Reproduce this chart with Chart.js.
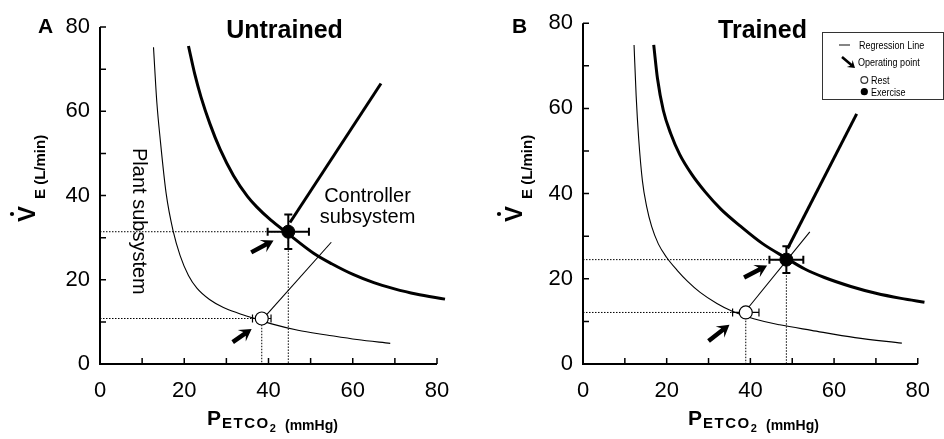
<!DOCTYPE html>
<html>
<head>
<meta charset="utf-8">
<script src="https://cdn.jsdelivr.net/npm/chart.js@4"></script>
<style>
  html, body { margin: 0; padding: 0; background: #fff; }
  #wrap { position: relative; width: 944px; height: 439px; overflow: hidden; }
  #chartA { position: absolute; left: 0; top: 0; }
  #chartB { position: absolute; left: 470px; top: 0; }
</style>
</head>
<body>
<div id="wrap">
  <canvas id="chartA" width="470" height="439"></canvas>
  <canvas id="chartB" width="474" height="439"></canvas>
</div>
<script>
// --- Axis ticks ---
const axisTicks = [0, 20, 40, 60, 80];
const tickMarks = [0, 10, 20, 30, 40, 50, 60, 70, 80];

// --- Panel A: Untrained (P_ETCO2 in mmHg, V_E in L/min) ---
const untrainedRestCurveP = [12.7, 13.5, 14.3, 15.7, 17.4, 19.0, 21.0, 23.0, 26.0, 29.3, 33.0, 36.4, 41.2, 47.0, 53.8, 61.0, 68.9];
const untrainedRestCurveV = [75.2, 62.0, 53.3, 40.5, 31.4, 25.8, 21.0, 18.0, 15.3, 13.4, 12.0, 10.9, 9.4, 8.0, 6.9, 5.8, 4.9];
const untrainedExCurveP = [21.0, 22.5, 24.0, 26.1, 28.5, 31.7, 35.0, 37.2, 40.5, 44.3, 50.7, 55.0, 60.2, 65.0, 69.7, 75.0, 81.9];
const untrainedExCurveV = [75.5, 68.8, 63.3, 57.0, 51.0, 44.7, 39.8, 37.3, 34.2, 31.2, 26.3, 23.8, 21.2, 19.3, 17.9, 16.6, 15.4];
const untrainedRestLineP = [39.2, 54.9];
const untrainedRestLineV = [11.3, 28.9];
const untrainedExLineP = [45.1, 66.7];
const untrainedExLineV = [33.6, 66.6];
const untrainedPointsP = [38.4, 44.7];   // rest, exercise
const untrainedPointsV = [10.8, 31.4];
const untrainedErrP = [2.2, 4.9];
const untrainedErrV = [0.3, 4.1];
const untrainedArrowTailP = [31.5, 35.9];
const untrainedArrowTailV = [5.2, 26.5];
const untrainedArrowHeadP = [36.0, 41.2];
const untrainedArrowHeadV = [8.3, 29.3];

// --- Panel B: Trained ---
const trainedRestCurveP = [12.2, 12.7, 13.3, 14.2, 15.2, 16.4, 18.0, 20.0, 22.5, 25.0, 28.0, 32.0, 35.8, 40.8, 47.0, 54.6, 65.0, 76.2];
const trainedRestCurveV = [74.9, 63.0, 53.0, 43.0, 37.0, 32.3, 28.2, 25.0, 22.0, 19.4, 16.8, 14.2, 12.3, 10.6, 9.2, 7.9, 6.2, 4.9];
const trainedExCurveP = [16.9, 17.8, 19.2, 21.0, 23.1, 26.0, 29.2, 33.0, 37.7, 43.0, 48.5, 53.0, 57.7, 64.0, 70.0, 76.0, 81.6];
const trainedExCurveV = [74.9, 67.0, 59.5, 54.0, 49.2, 44.5, 40.4, 36.3, 32.3, 28.2, 24.9, 22.3, 20.3, 18.2, 16.6, 15.4, 14.5];
const trainedRestLineP = [38.9, 54.2];
const trainedRestLineV = [12.5, 31.0];
const trainedExLineP = [48.9, 65.4];
const trainedExLineV = [27.1, 58.7];
const trainedPointsP = [38.9, 48.6];
const trainedPointsV = [12.1, 24.5];
const trainedErrP = [3.15, 4.05];
const trainedErrV = [0.3, 3.15];
const trainedArrowTailP = [30.0, 38.5];
const trainedArrowTailV = [5.4, 20.3];
const trainedArrowHeadP = [35.0, 44.0];
const trainedArrowHeadV = [9.2, 23.1];

Chart.defaults.font.family = "'Liberation Sans', Arial, sans-serif";
Chart.defaults.color = '#000';

const FONT = "'Liberation Sans', Arial, sans-serif";

// --- Helpers ---
const pts = (xs, ys) => xs.map((x, i) => ({ x, y: ys[i] }));

const drawArrow = (ctx, x1, y1, x2, y2, shaft, headLen, headW) => {
    const len = Math.hypot(x2 - x1, y2 - y1);
    ctx.save();
    ctx.translate(x2, y2);
    ctx.rotate(Math.atan2(y2 - y1, x2 - x1));
    ctx.fillStyle = '#000';
    ctx.beginPath();
    ctx.moveTo(0, 0);
    ctx.lineTo(-headLen, -headW);
    ctx.lineTo(-headLen * 0.72, -shaft / 2);
    ctx.lineTo(-len, -shaft / 2);
    ctx.lineTo(-len, shaft / 2);
    ctx.lineTo(-headLen * 0.72, shaft / 2);
    ctx.lineTo(-headLen, headW);
    ctx.closePath();
    ctx.fill();
    ctx.restore();
};

const drawXTitle = (ctx, x0, base) => {
    ctx.save();
    ctx.fillStyle = '#000';
    ctx.textAlign = 'left';
    ctx.textBaseline = 'alphabetic';
    ctx.font = `bold 21px ${FONT}`;
    ctx.fillText('P', x0, base);
    let x = x0 + ctx.measureText('P').width + 1;
    ctx.font = `bold 15px ${FONT}`;
    ctx.letterSpacing = '1.5px';
    ctx.fillText('ETCO', x, base + 3);
    x += ctx.measureText('ETCO').width;
    ctx.letterSpacing = '0px';
    ctx.font = `bold 11px ${FONT}`;
    ctx.fillText('2', x, base + 7);
    ctx.font = `bold 14px ${FONT}`;
    ctx.fillText('(mmHg)', x0 + 78, base + 5);
    ctx.restore();
};

const drawYTitle = (ctx, baseX, startY) => {
    ctx.save();
    ctx.translate(baseX, startY);
    ctx.rotate(-Math.PI / 2);
    ctx.fillStyle = '#000';
    ctx.textAlign = 'left';
    ctx.textBaseline = 'alphabetic';
    ctx.font = `bold 24px ${FONT}`;
    ctx.fillText('V', 0, 0);
    const wV = ctx.measureText('V').width;
    ctx.beginPath();
    ctx.arc(wV / 2, -23, 2.1, 0, Math.PI * 2);
    ctx.fill();
    ctx.font = `bold 15px ${FONT}`;
    ctx.fillText('E (L/min)', wV + 7, 10);
    ctx.restore();
};

// --- Decoration plugin: axes, error bars, arrows and texts ---
const makeDecor = (d, look) => ({
    id: 'panelDecor',
    beforeDatasetsDraw(chart) {
        const { ctx, chartArea: a, scales: { x, y } } = chart;
        ctx.save();
        ctx.strokeStyle = '#000';
        ctx.lineWidth = 2;
        ctx.beginPath();
        ctx.moveTo(a.left, a.top);
        ctx.lineTo(a.left, a.bottom);
        ctx.lineTo(a.right, a.bottom);
        ctx.stroke();
        ctx.lineWidth = 1.5;
        ctx.beginPath();
        tickMarks.forEach(v => {
            const xp = x.getPixelForValue(v);
            const yp = y.getPixelForValue(v);
            ctx.moveTo(xp, a.bottom);
            ctx.lineTo(xp, a.bottom - 6);
            ctx.moveTo(a.left, yp);
            ctx.lineTo(a.left + 6, yp);
        });
        ctx.stroke();

        // error bars (index 0 rest = thin, 1 exercise = thick)
        d.pointsP.forEach((p, i) => {
            const v = d.pointsV[i];
            const cx = x.getPixelForValue(p), cy = y.getPixelForValue(v);
            const xl = x.getPixelForValue(p - d.errP[i]), xr = x.getPixelForValue(p + d.errP[i]);
            const yt = y.getPixelForValue(v + d.errV[i]), yb = y.getPixelForValue(v - d.errV[i]);
            const cap = 4;
            ctx.lineWidth = i === 0 ? 1.2 : 2;
            ctx.beginPath();
            ctx.moveTo(xl, cy); ctx.lineTo(xr, cy);
            ctx.moveTo(xl, cy - cap); ctx.lineTo(xl, cy + cap);
            ctx.moveTo(xr, cy - cap); ctx.lineTo(xr, cy + cap);
            if (d.errV[i] > 0.5) {
                ctx.moveTo(cx, yt); ctx.lineTo(cx, yb);
                ctx.moveTo(cx - cap, yt); ctx.lineTo(cx + cap, yt);
                ctx.moveTo(cx - cap, yb); ctx.lineTo(cx + cap, yb);
            }
            ctx.stroke();
        });
        ctx.restore();
    },
    afterDatasetsDraw(chart) {
        const { ctx, scales: { x, y } } = chart;
        d.arrowTailP.forEach((p, i) => {
            drawArrow(ctx,
                x.getPixelForValue(p), y.getPixelForValue(d.arrowTailV[i]),
                x.getPixelForValue(d.arrowHeadP[i]), y.getPixelForValue(d.arrowHeadV[i]),
                4.5, 12, 7);
        });
    },
    afterDraw(chart) {
        const { ctx } = chart;
        ctx.save();
        ctx.fillStyle = '#000';
        ctx.textBaseline = 'alphabetic';
        ctx.font = `bold 21px ${FONT}`;
        ctx.textAlign = 'left';
        ctx.fillText(look.letter, look.letterX, 33);
        ctx.font = `bold 25px ${FONT}`;
        ctx.textAlign = 'center';
        ctx.fillText(look.title, look.titleX, 38);
        ctx.restore();

        drawXTitle(ctx, look.xTitleX, 425);
        drawYTitle(ctx, look.yTitleX, 222);
        if (look.extra) look.extra(ctx);
    }
});

const buildDatasets = (d) => {
    const base = { showLine: true, pointRadius: 0, borderColor: '#000', backgroundColor: '#000', fill: false, clip: false };
    return [
        { ...base, data: pts([d.pointsP[1]], [d.pointsV[1]]), showLine: false, pointRadius: 6.5,
          pointBackgroundColor: '#000', pointBorderColor: '#000', order: 0 },
        { ...base, data: pts([d.pointsP[0]], [d.pointsV[0]]), showLine: false, pointRadius: 6.5,
          pointBackgroundColor: '#fff', pointBorderColor: '#000', pointBorderWidth: 1.2, order: 1 },
        { ...base, data: pts(d.exLineP, d.exLineV), borderWidth: 3, order: 2 },
        { ...base, data: pts(d.restLineP, d.restLineV), borderWidth: 1.1, order: 3 },
        { ...base, data: pts(d.exCurveP, d.exCurveV), borderWidth: 3, cubicInterpolationMode: 'monotone', order: 4 },
        { ...base, data: pts(d.restCurveP, d.restCurveV), borderWidth: 1.1, cubicInterpolationMode: 'monotone', order: 5 },
        { ...base, data: [{ x: 0, y: d.pointsV[0] }, { x: d.pointsP[0], y: d.pointsV[0] }, { x: d.pointsP[0], y: 0 }],
          borderWidth: 1, borderDash: [1.5, 1.5], order: 6 },
        { ...base, data: [{ x: 0, y: d.pointsV[1] }, { x: d.pointsP[1], y: d.pointsV[1] }, { x: d.pointsP[1], y: 0 }],
          borderWidth: 1, borderDash: [1.5, 1.5], order: 7 }
    ];
};

const buildChart = (canvasId, d, look) => {
    const ctx = document.getElementById(canvasId).getContext('2d');
    return new Chart(ctx, {
        type: 'scatter',
        data: { datasets: buildDatasets(d) },
        options: {
            responsive: false,
            animation: false,
            events: [],
            layout: { padding: { left: 0, right: look.padRight, top: look.padTop, bottom: 0 } },
            plugins: { legend: { display: false }, tooltip: { enabled: false } },
            scales: {
                x: {
                    type: 'linear', min: 0, max: 80,
                    afterBuildTicks: s => { s.ticks = axisTicks.map(v => ({ value: v })); },
                    afterFit: s => { s.height = 75; },
                    grid: { display: false, drawTicks: false },
                    border: { display: false },
                    ticks: { font: { size: 22 }, padding: 14, maxRotation: 0, autoSkip: false, color: '#000' }
                },
                y: {
                    type: 'linear', min: 0, max: 80,
                    afterBuildTicks: s => { s.ticks = axisTicks.map(v => ({ value: v })); },
                    afterFit: s => { s.width = look.yAxisWidth; },
                    grid: { display: false, drawTicks: false },
                    border: { display: false },
                    ticks: { font: { size: 22 }, padding: 10, autoSkip: false, color: '#000' }
                }
            }
        },
        plugins: [makeDecor(d, look)]
    });
};

// --- Initialize panels ---
buildChart('chartA', {
    restCurveP: untrainedRestCurveP, restCurveV: untrainedRestCurveV,
    exCurveP: untrainedExCurveP, exCurveV: untrainedExCurveV,
    restLineP: untrainedRestLineP, restLineV: untrainedRestLineV,
    exLineP: untrainedExLineP, exLineV: untrainedExLineV,
    pointsP: untrainedPointsP, pointsV: untrainedPointsV,
    errP: untrainedErrP, errV: untrainedErrV,
    arrowTailP: untrainedArrowTailP, arrowTailV: untrainedArrowTailV,
    arrowHeadP: untrainedArrowHeadP, arrowHeadV: untrainedArrowHeadV
}, {
    padRight: 33, padTop: 27, yAxisWidth: 100,
    letter: 'A', letterX: 38, title: 'Untrained', titleX: 284.5,
    xTitleX: 207, yTitleX: 35,
    extra: (ctx) => {
        ctx.save();
        ctx.fillStyle = '#000';
        ctx.font = `20px ${FONT}`;
        ctx.textAlign = 'center';
        ctx.fillText('Controller', 367.5, 202);
        ctx.fillText('subsystem', 367.5, 223);
        ctx.translate(133, 148);
        ctx.rotate(Math.PI / 2);
        ctx.textAlign = 'left';
        ctx.fillText('Plant subsystem', 0, 0);
        ctx.restore();
    }
});

buildChart('chartB', {
    restCurveP: trainedRestCurveP, restCurveV: trainedRestCurveV,
    exCurveP: trainedExCurveP, exCurveV: trainedExCurveV,
    restLineP: trainedRestLineP, restLineV: trainedRestLineV,
    exLineP: trainedExLineP, exLineV: trainedExLineV,
    pointsP: trainedPointsP, pointsV: trainedPointsV,
    errP: trainedErrP, errV: trainedErrV,
    arrowTailP: trainedArrowTailP, arrowTailV: trainedArrowTailV,
    arrowHeadP: trainedArrowHeadP, arrowHeadV: trainedArrowHeadV
}, {
    padRight: 14, padTop: 18, yAxisWidth: 113,
    letter: 'B', letterX: 42, title: 'Trained', titleX: 292.5,
    xTitleX: 218, yTitleX: 52,
    extra: (ctx) => {
        // legend box
        ctx.save();
        ctx.strokeStyle = '#333';
        ctx.lineWidth = 1;
        ctx.strokeRect(352.5, 32.5, 121, 67);
        ctx.fillStyle = '#000';
        ctx.lineWidth = 1.2;
        ctx.beginPath();
        ctx.moveTo(369, 45); ctx.lineTo(380, 45);
        ctx.stroke();
        drawArrow(ctx, 372, 57, 385, 68, 2.6, 7, 4.5);
        ctx.beginPath();
        ctx.arc(394.3, 80, 3.4, 0, Math.PI * 2);
        ctx.fillStyle = '#fff';
        ctx.fill();
        ctx.stroke();
        ctx.fillStyle = '#000';
        ctx.beginPath();
        ctx.arc(394.3, 91.7, 3.6, 0, Math.PI * 2);
        ctx.fill();
        ctx.font = `11px ${FONT}`;
        ctx.textAlign = 'left';
        const label = (txt, lx, ly) => {
            ctx.save();
            ctx.translate(lx, ly);
            ctx.scale(0.82, 1);
            ctx.fillText(txt, 0, 0);
            ctx.restore();
        };
        label('Regression Line', 389, 49);
        label('Operating point', 388, 66);
        label('Rest', 401, 84);
        label('Exercise', 401, 95.5);
        ctx.restore();
    }
});

window.onerror = function (message, source, lineno) {
    console.log('Global Error:', message, 'at', source + ':' + lineno);
};
</script>
</body>
</html>
